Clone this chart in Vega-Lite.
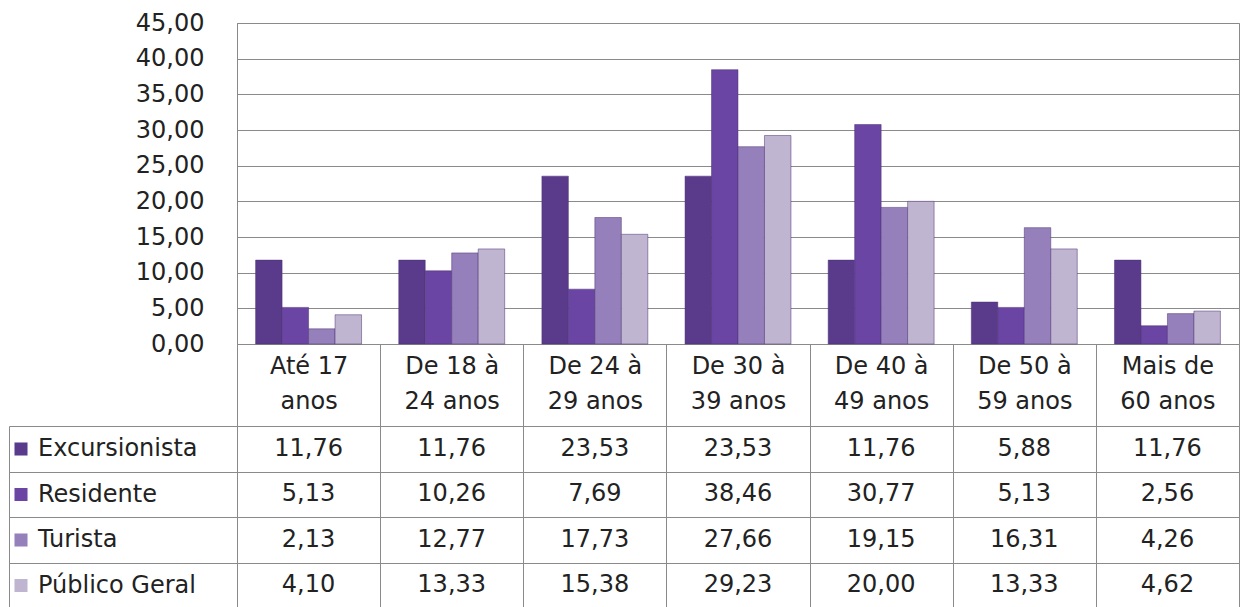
{
  "$schema": "https://vega.github.io/schema/vega-lite/v6.json",
  "padding": {"left": 8, "top": 10, "right": 6, "bottom": 0},
  "background": "white",
  "config": {
    "font": "DejaVu Sans",
    "view": {"stroke": "#8a8a8a", "strokeWidth": 1},
    "locale": {"number": {"decimal": ",", "thousands": ".", "grouping": [3], "currency": ["", ""]}},
    "axis": {"labelFont": "DejaVu Sans", "labelFontSize": 24, "labelColor": "#222222", "gridColor": "#8a8a8a", "domainColor": "#8a8a8a", "tickColor": "#8a8a8a", "gridOpacity": 1, "title": null}
  },
  "datasets": {
    "d": [
      {"faixa": "Até 17 anos", "grupo": "Excursionista", "valor": 11.76},
      {"faixa": "Até 17 anos", "grupo": "Residente", "valor": 5.13},
      {"faixa": "Até 17 anos", "grupo": "Turista", "valor": 2.13},
      {"faixa": "Até 17 anos", "grupo": "Público Geral", "valor": 4.10},
      {"faixa": "De 18 à 24 anos", "grupo": "Excursionista", "valor": 11.76},
      {"faixa": "De 18 à 24 anos", "grupo": "Residente", "valor": 10.26},
      {"faixa": "De 18 à 24 anos", "grupo": "Turista", "valor": 12.77},
      {"faixa": "De 18 à 24 anos", "grupo": "Público Geral", "valor": 13.33},
      {"faixa": "De 24 à 29 anos", "grupo": "Excursionista", "valor": 23.53},
      {"faixa": "De 24 à 29 anos", "grupo": "Residente", "valor": 7.69},
      {"faixa": "De 24 à 29 anos", "grupo": "Turista", "valor": 17.73},
      {"faixa": "De 24 à 29 anos", "grupo": "Público Geral", "valor": 15.38},
      {"faixa": "De 30 à 39 anos", "grupo": "Excursionista", "valor": 23.53},
      {"faixa": "De 30 à 39 anos", "grupo": "Residente", "valor": 38.46},
      {"faixa": "De 30 à 39 anos", "grupo": "Turista", "valor": 27.66},
      {"faixa": "De 30 à 39 anos", "grupo": "Público Geral", "valor": 29.23},
      {"faixa": "De 40 à 49 anos", "grupo": "Excursionista", "valor": 11.76},
      {"faixa": "De 40 à 49 anos", "grupo": "Residente", "valor": 30.77},
      {"faixa": "De 40 à 49 anos", "grupo": "Turista", "valor": 19.15},
      {"faixa": "De 40 à 49 anos", "grupo": "Público Geral", "valor": 20.00},
      {"faixa": "De 50 à 59 anos", "grupo": "Excursionista", "valor": 5.88},
      {"faixa": "De 50 à 59 anos", "grupo": "Residente", "valor": 5.13},
      {"faixa": "De 50 à 59 anos", "grupo": "Turista", "valor": 16.31},
      {"faixa": "De 50 à 59 anos", "grupo": "Público Geral", "valor": 13.33},
      {"faixa": "Mais de 60 anos", "grupo": "Excursionista", "valor": 11.76},
      {"faixa": "Mais de 60 anos", "grupo": "Residente", "valor": 2.56},
      {"faixa": "Mais de 60 anos", "grupo": "Turista", "valor": 4.26},
      {"faixa": "Mais de 60 anos", "grupo": "Público Geral", "valor": 4.62}
    ]
  },
  "data": {"name": "d"},
  "spacing": -14,
  "resolve": {"scale": {"x": "independent"}},
  "vconcat": [
    {
      "width": 1002,
      "height": 321,
      "mark": {"type": "bar", "stroke": "#4a3070", "strokeWidth": 0.5},
      "encoding": {
        "x": {"field": "faixa", "type": "nominal",
              "sort": ["Até 17 anos", "De 18 à 24 anos", "De 24 à 29 anos", "De 30 à 39 anos", "De 40 à 49 anos", "De 50 à 59 anos", "Mais de 60 anos"],
              "scale": {"paddingInner": 0.26, "paddingOuter": 0.13},
              "axis": null},
        "xOffset": {"field": "grupo", "type": "nominal",
                    "sort": ["Excursionista", "Residente", "Turista", "Público Geral"],
                    "scale": {"paddingInner": 0, "paddingOuter": 0}},
        "y": {"field": "valor", "type": "quantitative",
              "scale": {"domain": [0, 45], "nice": false},
              "axis": {"values": [0, 5, 10, 15, 20, 25, 30, 35, 40, 45],
                       "labelExpr": "replace(format(datum.value, '.2f'), '.', ',')",
                       "ticks": false, "labelPadding": 33, "domain": true, "grid": true, "title": null}},
        "color": {"field": "grupo", "type": "nominal",
                  "scale": {"domain": ["Excursionista", "Residente", "Turista", "Público Geral"],
                            "range": ["#5a3b8b", "#6a45a3", "#9580bc", "#bfb5d0"]},
                  "legend": {"title": null, "orient": "none", "legendX": -228, "legendY": 414,
                             "symbolType": "square", "symbolSize": 170, "symbolStrokeWidth": 0, "symbolOpacity": 1,
                             "labelFontSize": 24, "labelFont": "DejaVu Sans", "labelColor": "#222222",
                             "labelOffset": 5, "rowPadding": 21.5, "padding": 0, "offset": 0, "labelLimit": 300}}
      }
    },
    {
      "width": 1002,
      "height": 182,
      "mark": {"type": "text", "fontSize": 24, "font": "DejaVu Sans", "color": "#222222"},
      "encoding": {
        "x": {"field": "faixa", "type": "nominal",
              "sort": ["Até 17 anos", "De 18 à 24 anos", "De 24 à 29 anos", "De 30 à 39 anos", "De 40 à 49 anos", "De 50 à 59 anos", "Mais de 60 anos"],
              "scale": {"paddingInner": 0, "paddingOuter": 0},
              "axis": {"orient": "top", "tickBand": "extent", "tickSize": 82, "grid": true,
                       "labelBaseline": "top", "labelPadding": -10, "labelLineHeight": 35, "labelAngle": 0, "labelAlign": "center",
                       "labelExpr": "datum.label == 'Até 17 anos' ? ['Até 17', 'anos'] : [slice(datum.label, 0, 7), slice(datum.label, 8)]",
                       "domain": false, "title": null}},
        "y": {"field": "grupo", "type": "nominal",
              "sort": ["Excursionista", "Residente", "Turista", "Público Geral"],
              "scale": {"paddingInner": 0, "paddingOuter": 0},
              "axis": {"orient": "left", "offset": 228, "tickBand": "extent", "tickSize": -228,
                       "labels": false, "grid": true, "domain": true, "title": null}},
        "text": {"field": "valor", "type": "quantitative", "format": ".2f"}
      }
    }
  ]
}
